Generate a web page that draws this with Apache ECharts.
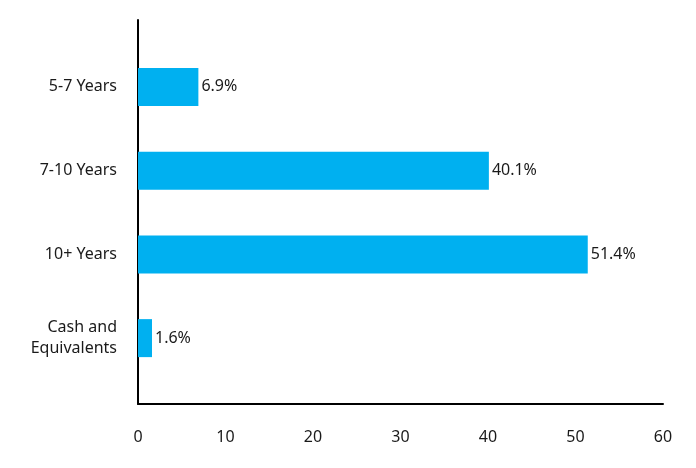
<!DOCTYPE html>
<html><head><meta charset="utf-8">
<script src="https://cdn.jsdelivr.net/npm/echarts@6/dist/echarts.min.js"></script>
<style>html,body{margin:0;padding:0;background:#fff}#c{width:696px;height:468px}</style>
</head><body><div id="c"></div>
<script>
const categories = ['5-7 Years', '7-10 Years', '10+ Years', 'Cash and\nEquivalents'];
const values = [6.9, 40.1, 51.4, 1.6];
const xTicks = [0, 10, 20, 30, 40, 50, 60];

const chart = echarts.init(document.getElementById('c'), null, {renderer: 'canvas'});
const font = 'Noto Sans';
chart.setOption({
  animation: false,
  grid: [
    {left: 138, right: 33, top: 20, bottom: 64},
    {left: 138, right: 33, top: 45, bottom: 88}
  ],
  xAxis: [
    {gridIndex: 0, type: 'value', min: xTicks[0], max: xTicks[xTicks.length - 1], interval: 10,
     axisLine: {show: true, lineStyle: {color: '#000', width: 2}}, axisTick: {show: false},
     splitLine: {show: false},
     axisLabel: {color: '#1a1a1a', fontSize: 16, fontFamily: font, margin: 25}},
    {gridIndex: 1, type: 'value', min: xTicks[0], max: xTicks[xTicks.length - 1], show: false}
  ],
  yAxis: [
    {gridIndex: 0, type: 'value', min: 0, max: 1,
     axisLine: {show: true, lineStyle: {color: '#000', width: 2}}, axisTick: {show: false},
     axisLabel: {show: false}, splitLine: {show: false}},
    {gridIndex: 1, type: 'category', inverse: true, data: categories,
     axisLine: {show: false}, axisTick: {show: false}, splitLine: {show: false},
     axisLabel: {color: '#1a1a1a', fontSize: 16, fontFamily: font, margin: 21, lineHeight: 21,
       align: 'right', padding: [3, 0, 0, 0]}}
  ],
  series: [{
    type: 'bar', xAxisIndex: 1, yAxisIndex: 1, data: values,
    barWidth: 38,
    itemStyle: {color: '#00B0F0'},
    label: {show: true, position: 'right', distance: 3, formatter: p => p.value.toFixed(1) + '%',
      color: '#1a1a1a', fontSize: 16, fontFamily: font, padding: [3, 0, 0, 0]}
  }]
});
</script></body></html>
